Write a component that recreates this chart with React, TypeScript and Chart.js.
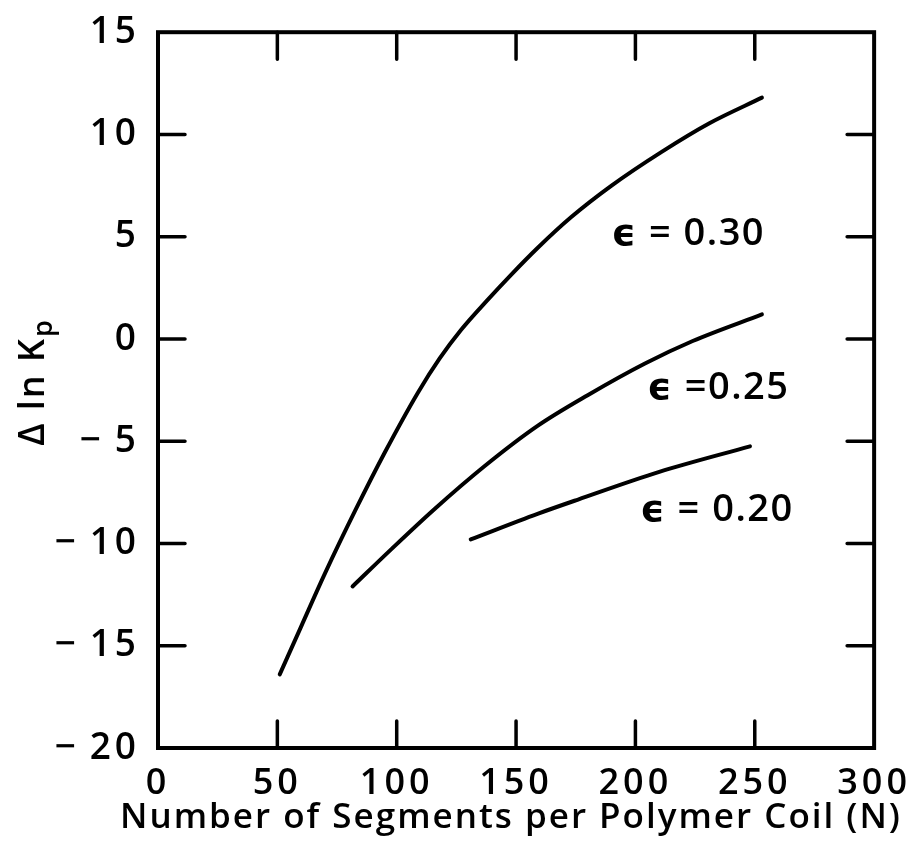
import React, { useEffect, useRef } from "react";
import { Chart, registerables } from "chart.js";

Chart.register(...registerables);

// Segment counts N and the corresponding Δ ln Kp for each ε
const nEps030 = [51, 60, 70, 83, 95, 109, 118, 127, 138, 148, 159, 173, 190, 211, 231, 253];
const yEps030 = [-16.4, -14.05, -11.45, -8.3, -5.55, -2.6, -0.95, 0.45, 1.9, 3.15, 4.45, 5.95, 7.5, 9.15, 10.55, 11.8];

const nEps025 = [81.5, 98, 116, 137, 159, 180, 204, 224, 253];
const yEps025 = [-12.1, -10.25, -8.3, -6.2, -4.25, -2.75, -1.2, -0.1, 1.2];

const nEps020 = [131, 159, 176, 210, 248];
const yEps020 = [-9.8, -8.55, -7.85, -6.5, -5.25];

const curveLabels = ["\u03F5 = 0.30", "\u03F5 =0.25", "\u03F5 = 0.20"];
// label anchor: left x (N) and vertical centre (Δ ln Kp)
const labelN = [190, 205, 202];
const labelY = [5.1, -2.4, -8.35];

const xTicks = [0, 50, 100, 150, 200, 250, 300];
const yTicks = [-20, -15, -10, -5, 0, 5, 10, 15];

const xTitle = "Number of Segments per Polymer Coil (N)";

const FONT = "'Open Sans', 'DejaVu Sans', sans-serif";
const WEIGHT = 600;

const toPoints = (xs: number[], ys: number[]) => xs.map((x, i) => ({ x, y: ys[i] }));

const spacingPlugin = {
  id: "tickSpacing",
  beforeUpdate(chart: any) {
    chart.ctx.letterSpacing = "4px";
  },
  beforeDraw(chart: any) {
    chart.ctx.letterSpacing = "4px";
  },
};

const framePlugin = {
  id: "frameAndNotes",
  afterDraw(chart: any) {
    const { ctx, chartArea, scales } = chart;
    const { left, right, top, bottom } = chartArea;
    const xs = scales.x;
    const ys = scales.y;
    ctx.save();
    ctx.strokeStyle = "#000";
    ctx.lineCap = "round";
    ctx.lineWidth = 4;
    ctx.strokeRect(left, top, right - left, bottom - top);
    ctx.lineWidth = 3.5;
    const tick = 27;
    xTicks.slice(1, -1).forEach((v) => {
      const px = xs.getPixelForValue(v);
      ctx.beginPath();
      ctx.moveTo(px, bottom);
      ctx.lineTo(px, bottom - tick);
      ctx.moveTo(px, top);
      ctx.lineTo(px, top + tick);
      ctx.stroke();
    });
    yTicks.slice(1, -1).forEach((v) => {
      const py = ys.getPixelForValue(v);
      ctx.beginPath();
      ctx.moveTo(left, py);
      ctx.lineTo(left + tick, py);
      ctx.moveTo(right, py);
      ctx.lineTo(right - tick, py);
      ctx.stroke();
    });

    ctx.fillStyle = "#000";

    // curve annotations
    ctx.letterSpacing = "1.5px";
    ctx.textBaseline = "middle";
    ctx.textAlign = "left";
    ctx.font = `${WEIGHT} 38px ${FONT}`;
    curveLabels.forEach((t, i) => {
      ctx.fillText(t, xs.getPixelForValue(labelN[i]), ys.getPixelForValue(labelY[i]));
    });

    // x-axis title
    ctx.letterSpacing = "2px";
    ctx.textAlign = "center";
    ctx.textBaseline = "alphabetic";
    ctx.font = `${WEIGHT} 35px ${FONT}`;
    ctx.fillText(xTitle, 511, 828);

    // rotated y-axis title with subscript p
    ctx.letterSpacing = "2px";
    ctx.translate(34, 382);
    ctx.rotate(-Math.PI / 2);
    ctx.textAlign = "left";
    ctx.textBaseline = "middle";
    ctx.font = `${WEIGHT} 36px ${FONT}`;
    const main = "\u0394 ln K";
    const w = ctx.measureText(main).width;
    ctx.font = `${WEIGHT} 27px ${FONT}`;
    const ws = ctx.measureText("p").width;
    const start = -(w + ws) / 2;
    ctx.font = `${WEIGHT} 36px ${FONT}`;
    ctx.fillText(main, start, 0);
    ctx.font = `${WEIGHT} 27px ${FONT}`;
    ctx.fillText("p", start + w, 10);
    ctx.restore();
  },
};

export default function App() {
  const ref = useRef<HTMLCanvasElement | null>(null);

  useEffect(() => {
    document.body.style.margin = "0";
    const canvas = ref.current;
    if (!canvas) return;
    const lineStyle = {
      borderColor: "#000",
      borderWidth: 4,
      borderCapStyle: "round" as const,
      pointRadius: 0,
      fill: false,
      cubicInterpolationMode: "monotone" as const,
    };
    const chart = new Chart(canvas, {
      type: "line",
      data: {
        datasets: [
          { label: "ε = 0.30", data: toPoints(nEps030, yEps030), ...lineStyle },
          { label: "ε = 0.25", data: toPoints(nEps025, yEps025), ...lineStyle },
          { label: "ε = 0.20", data: toPoints(nEps020, yEps020), ...lineStyle },
        ],
      },
      options: {
        responsive: false,
        animation: false,
        layout: { padding: { top: 26, right: 39, left: 0, bottom: 0 } },
        plugins: { legend: { display: false }, tooltip: { enabled: false } },
        scales: {
          x: {
            type: "linear",
            min: 0,
            max: 300,
            afterBuildTicks: (s: any) => {
              s.ticks = xTicks.map((v) => ({ value: v }));
            },
            afterFit: (s: any) => {
              s.height = 104;
            },
            grid: { display: false },
            border: { display: false },
            ticks: {
              color: "#000",
              padding: 6,
              maxRotation: 0,
              font: { family: FONT, size: 36, weight: WEIGHT },
            },
          },
          y: {
            type: "linear",
            min: -20,
            max: 15,
            afterBuildTicks: (s: any) => {
              s.ticks = yTicks.map((v) => ({ value: v }));
            },
            afterFit: (s: any) => {
              s.width = 158;
            },
            grid: { display: false },
            border: { display: false },
            ticks: {
              color: "#000",
              padding: 10,
              font: { family: FONT, size: 37, weight: WEIGHT },
              callback: (v: any) =>
                Number(v) < 0 ? "\u2212\u2009" + Math.abs(Number(v)) : String(v),
            },
          },
        },
      },
      plugins: [spacingPlugin, framePlugin],
    });
    return () => chart.destroy();
  }, []);

  return <canvas ref={ref} width={917} height={852} style={{ display: "block" }} />;
}
